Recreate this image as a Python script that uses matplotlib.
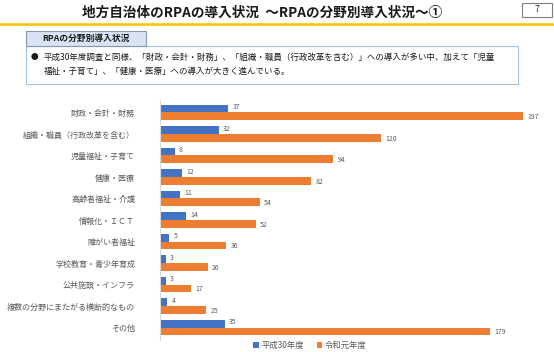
import matplotlib
matplotlib.use("Agg")
import matplotlib.pyplot as plt
from matplotlib.patches import Rectangle
import numpy as np

plt.rcParams['font.family'] = ['Noto Sans CJK JP', 'DejaVu Sans']

# ------------------- Data -------------------
categories = [
    "財政・会計・財務",
    "組織・職員（行政改革を含む）",
    "児童福祉・子育て",
    "健康・医療",
    "高齢者福祉・介護",
    "情報化・ＩＣＴ",
    "障がい者福祉",
    "学校教育・青少年育成",
    "公共施設・インフラ",
    "複数の分野にまたがる横断的なもの",
    "その他",
]
h30 = [37, 32, 8, 12, 11, 14, 5, 3, 3, 4, 35]
r1 = [197, 120, 94, 82, 54, 52, 36, 26, 17, 25, 179]
series_names = ["平成30年度", "令和元年度"]

title = "地方自治体のRPAの導入状況  ～RPAの分野別導入状況～①"
box_label = "RPAの分野別導入状況"
bullet_lines = [
    "平成30年度調査と同様、「財政・会計・財務」、「組織・職員（行政改革を含む）」への導入が多い中、加えて「児童",
    "福祉・子育て」、「健康・医療」への導入が大きく進んでいる。",
]

BLUE = "#4472C4"
ORANGE = "#ED7D31"
GREY = "#595959"

W, H = 554, 352
fig = plt.figure(figsize=(W / 100, H / 100), dpi=100)

# ------------------- Decorations (pixel coordinates) -------------------
deco = fig.add_axes([0, 0, 1, 1])
deco.set_xlim(0, W)
deco.set_ylim(H, 0)
deco.axis("off")

deco.text(262, 13, title, ha="center", va="center", fontsize=9.8,
          fontweight="bold", color="#1a1a1a")
deco.add_patch(Rectangle((522, 3), 30, 14, fill=False, ec="#7f7f7f", lw=0.8))
deco.text(537, 10, "7", ha="center", va="center", fontsize=6, color="#1a1a1a")
deco.plot([0, W], [23.5, 23.5], color="#F5C400", lw=1.8)

deco.add_patch(Rectangle((26, 46), 492, 38, fc="white", ec="#9DC3E6", lw=0.8))
deco.add_patch(Rectangle((26, 31), 120, 15, fc="#DAE3F3", ec="#8497B0", lw=0.8))
deco.text(86, 38.5, box_label, ha="center", va="center", fontsize=6.3,
          fontweight="bold", color="#1a1a1a")
deco.text(34, 57, "●", ha="center", va="center", fontsize=5.5, color="#1a1a1a")
deco.text(44, 57, bullet_lines[0], ha="left", va="center", fontsize=6.1, color="#1a1a1a")
deco.text(44, 71, bullet_lines[1], ha="left", va="center", fontsize=6.1, color="#1a1a1a")

# ------------------- Chart -------------------
ax = fig.add_axes([160 / W, (H - 340) / H, 385 / W, 240 / H])
y = np.arange(len(categories))
bh = 0.37
ax.barh(y - bh / 2, h30, height=bh, color=BLUE, label=series_names[0])
ax.barh(y + bh / 2, r1, height=bh, color=ORANGE, label=series_names[1])

for yi, v in zip(y, h30):
    ax.annotate(str(v), (v, yi - bh / 2), xytext=(3, 1), textcoords="offset points",
                ha="left", va="center", fontsize=5, color=GREY)
for yi, v in zip(y, r1):
    ax.annotate(str(v), (v, yi + bh / 2), xytext=(3, -0.5), textcoords="offset points",
                ha="left", va="center", fontsize=5, color=GREY)

ax.set_xlim(0, 385 / 1.843)
ax.set_ylim(len(categories) - 0.42, -0.58)
ax.set_yticks(y)
ax.set_yticklabels(categories, fontsize=5.8, color=GREY)
ax.tick_params(axis="y", length=0, pad=18)
ax.set_xticks([])
for s in ["top", "right", "bottom"]:
    ax.spines[s].set_visible(False)
ax.spines["left"].set_color("#D9D9D9")
ax.spines["left"].set_linewidth(0.8)

leg = fig.legend(loc="center", bbox_to_anchor=(310 / W, (H - 345) / H), ncol=2,
                 frameon=False, fontsize=6, handlelength=0.7, handleheight=0.7,
                 handletextpad=0.3, columnspacing=1.5, borderaxespad=0)
for t in leg.get_texts():
    t.set_color(GREY)

fig.savefig("out.png", dpi=100)
